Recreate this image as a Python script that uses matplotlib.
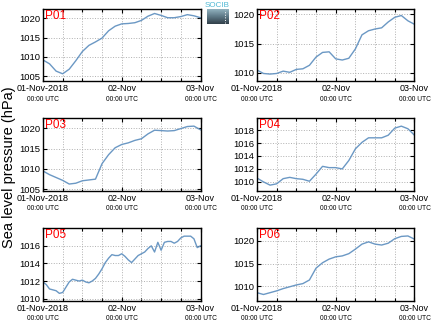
import matplotlib
matplotlib.use("Agg")
import matplotlib.pyplot as plt
from matplotlib.colors import LinearSegmentedColormap
import numpy as np

plt.rcParams['font.family'] = ['Liberation Sans', 'DejaVu Sans']

# hours since 01-Nov-2018 00:00 UTC
hours_2h = list(range(0, 49, 2))
hours_1h = list(range(0, 49))

p01 = [1009.2, 1008.2, 1006.3, 1005.6, 1006.8, 1009.0, 1011.4, 1013.0, 1013.9, 1014.9,
       1016.8, 1018.0, 1018.6, 1018.7, 1018.9, 1019.5, 1020.6, 1021.3, 1020.8, 1020.2,
       1020.2, 1020.5, 1021.0, 1020.7, 1020.2]
p02 = [1010.5, 1009.9, 1009.8, 1009.9, 1010.3, 1010.1, 1010.6, 1010.7, 1011.3, 1012.7,
       1013.5, 1013.6, 1012.4, 1012.2, 1012.5, 1014.1, 1016.5, 1017.2, 1017.5, 1017.7,
       1018.7, 1019.5, 1019.8, 1018.9, 1018.3]
p03 = [1009.5, 1008.6, 1007.9, 1007.2, 1006.3, 1006.5, 1007.1, 1007.3, 1007.5, 1011.3,
       1013.5, 1015.2, 1016.0, 1016.4, 1017.0, 1017.4, 1018.6, 1019.5, 1019.4, 1019.3,
       1019.4, 1019.9, 1020.4, 1020.5, 1019.6]
p04 = [1010.6, 1010.0, 1009.5, 1009.7, 1010.5, 1010.7, 1010.5, 1010.4, 1010.1, 1011.2,
       1012.4, 1012.2, 1012.2, 1012.0, 1013.3, 1015.1, 1016.1, 1016.8, 1016.8, 1016.8,
       1017.2, 1018.3, 1018.6, 1018.2, 1017.2]
p05 = [1011.9, 1011.6, 1011.1, 1011.0, 1010.9, 1010.6, 1010.7, 1011.3, 1011.9, 1012.2,
       1012.1, 1012.0, 1012.1, 1011.9, 1011.8, 1012.0, 1012.3, 1012.8, 1013.4, 1014.1,
       1014.6, 1015.0, 1014.9, 1014.9, 1015.1, 1014.8, 1014.4, 1014.1, 1014.5, 1014.9,
       1015.1, 1015.3, 1015.7, 1016.0, 1015.3, 1016.4, 1015.5, 1016.4, 1016.5, 1016.5,
       1016.3, 1016.5, 1016.9, 1017.1, 1017.1, 1017.1, 1016.8, 1015.8, 1016.0]
p06 = [1008.6, 1008.2, 1008.6, 1009.0, 1009.5, 1009.9, 1010.3, 1010.6, 1011.4, 1014.0,
       1015.2, 1016.0, 1016.5, 1016.7, 1017.2, 1018.2, 1019.3, 1019.8, 1019.3, 1019.1,
       1019.5, 1020.5, 1021.0, 1021.1, 1020.4]

names = ['P01', 'P02', 'P03', 'P04', 'P05', 'P06']
series = [p01, p02, p03, p04, p05, p06]
times = [hours_2h, hours_2h, hours_2h, hours_2h, hours_1h, hours_2h]
yticks = [[1005, 1010, 1015, 1020], [1010, 1015, 1020], [1005, 1010, 1015, 1020],
          [1010, 1012, 1014, 1016, 1018], [1010, 1012, 1014, 1016], [1010, 1015, 1020]]
ylims = [(1003.7, 1022.6), (1008.6, 1021.0), (1004.6, 1022.4),
         (1008.6, 1019.8), (1009.75, 1018.0), (1006.8, 1022.8)]
xtick_pos = [0, 24, 48]
xtick_top = ['01-Nov-2018', '02-Nov', '03-Nov']
xtick_bottom = ['00:00 UTC', '00:00 UTC', '00:00 UTC']

line_color = '#6b98c4'

fig = plt.figure(figsize=(4.34, 3.27), dpi=100)

lefts = [0.099, 0.592]
bottoms = [0.752, 0.416, 0.080]
w, h = 0.363, 0.222

for i in range(6):
    row, col = i // 2, i % 2
    ax = fig.add_axes([lefts[col], bottoms[row], w, h])
    ax.plot(times[i], series[i], color=line_color, lw=1.0)
    ax.set_xlim(0, 48)
    ax.set_ylim(*ylims[i])
    ax.set_yticks(yticks[i])
    ax.set_xticks(xtick_pos)
    ax.set_xticklabels(xtick_top)
    ax.set_xticks(np.arange(0, 49, 6), minor=True)
    ax.grid(True, which='both', axis='x', color='#b0b0b0', ls=':', lw=0.7)
    ax.grid(True, which='major', axis='y', color='#b0b0b0', ls=':', lw=0.7)
    ax.tick_params(axis='both', which='both', direction='in', top=True, right=True,
                   labelsize=6.5, pad=2)
    ax.tick_params(axis='y', labelsize=6.8)
    ax.tick_params(which='major', length=3, width=0.8)
    ax.tick_params(which='minor', length=2, width=0.8)
    for s in ax.spines.values():
        s.set_linewidth(1.0)
    ax.text(0.012, 0.985, names[i], transform=ax.transAxes, ha='left', va='top',
            color='red', fontsize=8.5)
    trans = ax.get_xaxis_transform()
    for xp, lab in zip(xtick_pos, xtick_bottom):
        ax.text(xp, -0.20, lab, transform=trans, ha='center', va='top', fontsize=4.8)

fig.text(0.02, 0.49, 'Sea level pressure (hPa)', rotation=90, ha='center', va='center',
         fontsize=10.5)

# small logo at the top centre
fig.text(217.5 / 434, 0.995, 'SOCIB', ha='center', va='top', fontsize=5.8, color='#4fb8d4')
logo = fig.add_axes([207 / 434, 1 - 24 / 327, 22 / 434, 15 / 327])
grad = np.linspace(0, 1, 20).reshape(-1, 1)
logo_cmap = LinearSegmentedColormap.from_list('logo', ['#8fb0bd', '#5d7886', '#33414b'])
logo.imshow(grad, aspect='auto', cmap=logo_cmap, extent=(0, 1, 0, 1))
logo.plot([0.8, 0.8], [0.05, 0.95], color='white', ls=':', lw=0.7)
logo.set_xlim(0, 1)
logo.set_ylim(0, 1)
logo.axis('off')

fig.savefig('out.png', dpi=100)
